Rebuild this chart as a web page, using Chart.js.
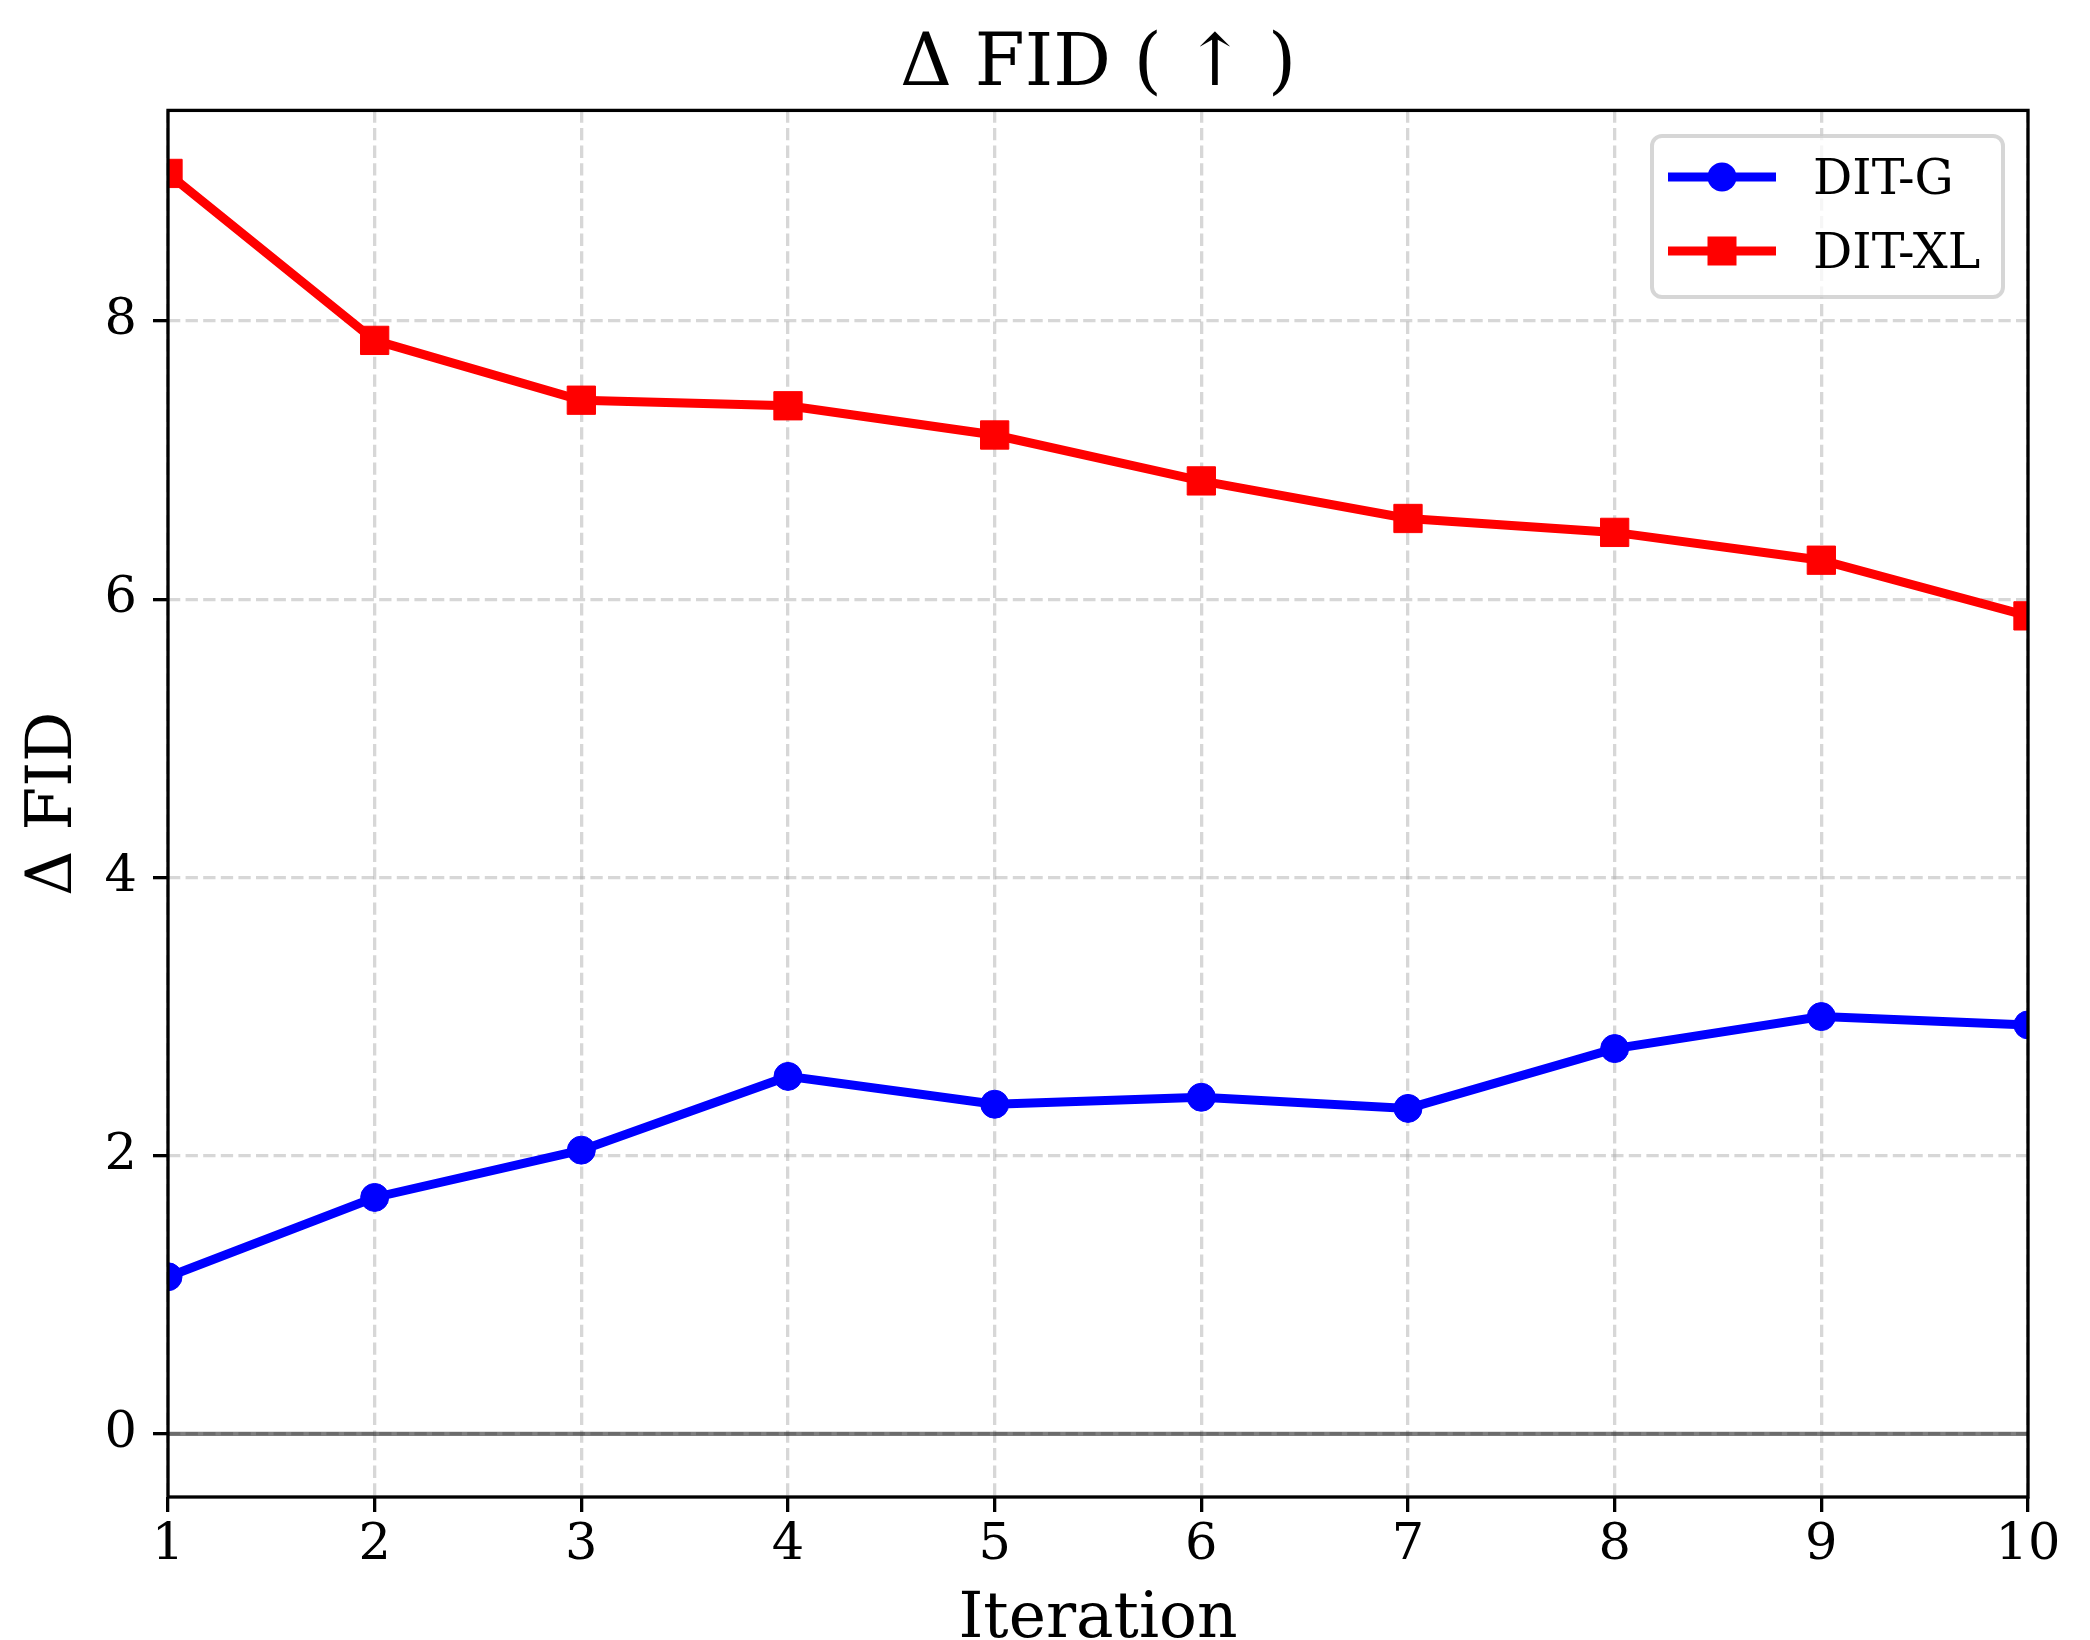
<!DOCTYPE html>
<html><head><meta charset="utf-8">
<script src="https://cdn.jsdelivr.net/npm/chart.js@4.4.1/dist/chart.umd.min.js"></script>
<style>html,body{margin:0;padding:0;background:#fff}#wrap{width:2090px;height:1640px}</style>
</head><body><div id="wrap"><canvas id="c" width="2090" height="1640"></canvas></div>
<script>
const iterations = [1, 2, 3, 4, 5, 6, 7, 8, 9, 10];
const ditG = [1.13, 1.70, 2.04, 2.57, 2.37, 2.42, 2.34, 2.77, 3.00, 2.94];
const ditXL = [9.06, 7.86, 7.43, 7.39, 7.18, 6.85, 6.58, 6.48, 6.28, 5.88];
const yTicks = [0, 2, 4, 6, 8];
const seriesLabels = ['DIT-G', 'DIT-XL'];
const chartTitle = 'Δ FID ( ↑ )';
const xTitle = 'Iteration';
const yTitle = 'Δ FID';

const FONT = "'DejaVu Serif', serif";
const toXY = arr => arr.map((v, i) => ({x: iterations[i], y: v}));

const framePlugin = {
  id: 'frameLegend',
  afterDraw(chart) {
    const {ctx, chartArea: a} = chart;
    ctx.save();
    ctx.strokeStyle = '#000';
    ctx.lineWidth = 3.3;
    ctx.strokeRect(a.left, a.top, a.right - a.left, a.bottom - a.top);
    // legend
    const bx = 1652, by = 136, bw = 351, bh = 161;
    ctx.beginPath();
    ctx.roundRect(bx, by, bw, bh, 10);
    ctx.fillStyle = 'rgba(255,255,255,0.8)';
    ctx.fill();
    ctx.strokeStyle = 'rgba(204,204,204,0.8)';
    ctx.lineWidth = 4;
    ctx.stroke();
    const rows = [177, 251];
    const baselines = [194, 268];
    [0, 1].forEach(i => {
      const ds = chart.data.datasets[i];
      const y = rows[i];
      ctx.strokeStyle = ds.borderColor;
      ctx.lineWidth = ds.borderWidth;
      ctx.beginPath(); ctx.moveTo(1668, y); ctx.lineTo(1776, y); ctx.stroke();
      ctx.fillStyle = ds.borderColor;
      if (ds.pointStyle === 'circle') {
        ctx.beginPath(); ctx.arc(1722, y, 14.5, 0, Math.PI * 2); ctx.fill();
      } else {
        ctx.fillRect(1722 - 14.5, y - 14.5, 29, 29);
      }
      ctx.fillStyle = '#000';
      ctx.font = '49px ' + FONT;
      ctx.textBaseline = 'alphabetic';
      ctx.textAlign = 'left';
      ctx.fillText(ds.label, 1813, baselines[i]);
    });
    ctx.restore();
  }
};

new Chart(document.getElementById('c'), {
  type: 'line',
  data: {
    datasets: [
      {
        label: seriesLabels[0], data: toXY(ditG),
        borderColor: '#0000ff', backgroundColor: '#0000ff', borderWidth: 9,
        pointStyle: 'circle', pointRadius: 14, pointBorderWidth: 1,
        pointBackgroundColor: '#0000ff', pointBorderColor: '#0000ff',
        tension: 0, clip: 0, fill: false
      },
      {
        label: seriesLabels[1], data: toXY(ditXL),
        borderColor: '#ff0000', backgroundColor: '#ff0000', borderWidth: 9,
        pointStyle: 'rect', pointRadius: 20, pointBorderWidth: 1,
        pointBackgroundColor: '#ff0000', pointBorderColor: '#ff0000',
        tension: 0, clip: 0, fill: false
      },
      {
        label: '', data: [{x: iterations[0], y: 0}, {x: iterations[iterations.length - 1], y: 0}],
        borderColor: 'rgba(0,0,0,0.5)', borderWidth: 4.2, pointRadius: 0, clip: 0, fill: false
      }
    ]
  },
  options: {
    responsive: false,
    devicePixelRatio: 1,
    animation: false,
    layout: {padding: {left: 0, right: 62, top: 0, bottom: 0}},
    plugins: {
      legend: {display: false},
      tooltip: {enabled: false},
      title: {
        display: true, text: chartTitle, fullSize: false, color: '#000',
        font: {family: FONT, size: 72, weight: 'normal'},
        padding: {top: 23, bottom: 1}
      }
    },
    scales: {
      x: {
        type: 'linear', min: 1, max: 10,
        afterBuildTicks: s => { s.ticks = iterations.map(v => ({value: v})); },
        afterFit: s => { s.height = 143; },
        grid: {color: 'rgba(176,176,176,0.5)', lineWidth: 3.3, tickLength: 15, tickColor: '#000', tickWidth: 3.3, tickBorderDash: []},
        border: {display: false, dash: [12.3, 5.3]},
        ticks: {color: '#000', font: {family: FONT, size: 51}, padding: 3, maxRotation: 0, autoSkip: false},
        title: {display: true, text: xTitle, color: '#000', font: {family: FONT, size: 63, lineHeight: 0.6}, padding: {top: 0, bottom: 0}}
      },
      y: {
        type: 'linear', min: -0.453, max: 9.513,
        afterBuildTicks: s => { s.ticks = yTicks.map(v => ({value: v})); },
        afterFit: s => { s.width = 168; },
        grid: {color: 'rgba(176,176,176,0.5)', lineWidth: 3.3, tickLength: 15, tickColor: '#000', tickWidth: 3.3, tickBorderDash: []},
        border: {display: false, dash: [12.3, 5.3]},
        ticks: {color: '#000', font: {family: FONT, size: 51}, padding: 16, autoSkip: false},
        title: {display: true, text: yTitle, color: '#000', font: {family: FONT, size: 63}, padding: {top: 17, bottom: 0}}
      }
    }
  },
  plugins: [framePlugin]
});
</script>
</body></html>
